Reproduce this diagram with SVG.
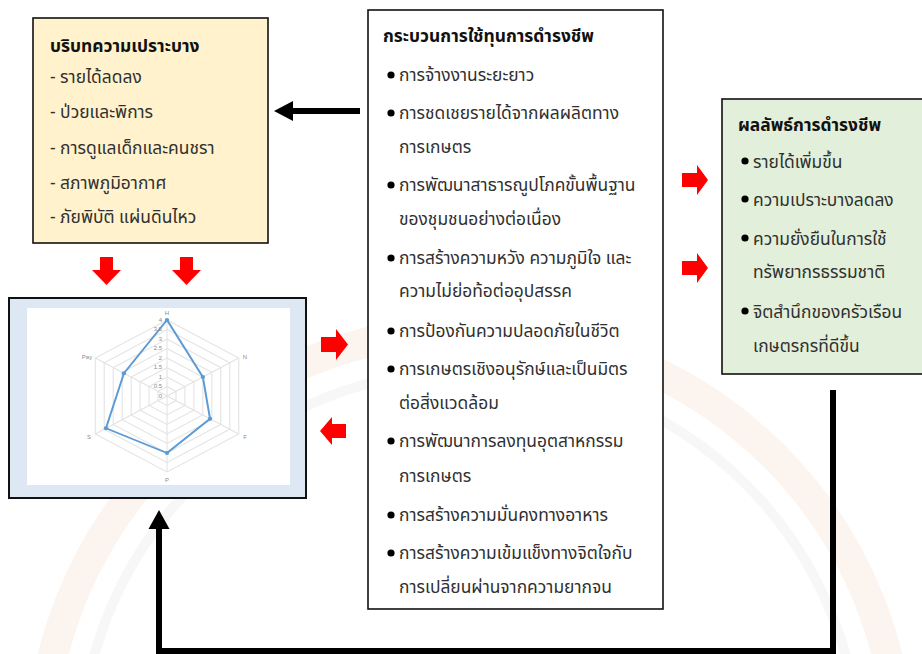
<svg xmlns="http://www.w3.org/2000/svg" width="922" height="654" viewBox="0 0 922 654">
<style>
.t{font-family:"Noto Sans Thai","Noto Sans","DejaVu Sans",sans-serif;font-size:17.4px;fill:#303030}
.h{font-family:"Noto Sans Thai","Noto Sans","DejaVu Sans",sans-serif;font-size:17.4px;font-weight:bold;fill:#111}
.box{stroke:#111;stroke-width:1.6}
.ax{font-family:"Liberation Sans",Arial,sans-serif;font-size:6px;fill:#8a8a8a}
.red{fill:#ff0000}
.blk{fill:#000}
.ring{fill:none;stroke:#e3e3e3;stroke-width:1}
</style>
<rect width="922" height="654" fill="#fff"/>
<g id="watermark" opacity="0.2" fill="none">
<circle cx="470" cy="760" r="430" stroke="#f3c9ae" stroke-width="30"/>
<circle cx="470" cy="760" r="390" stroke="#dcdcdc" stroke-width="10"/>
</g>
<g id="vulnerability">
<rect class="box" x="33" y="18" width="235" height="225" fill="#fff2cc"/>
<text class="h" x="50" y="52">บริบทความเปราะบาง</text>
<text class="t" x="50" y="83">- รายได้ลดลง</text>
<text class="t" x="50" y="118">- ป่วยและพิการ</text>
<text class="t" x="50" y="154">- การดูแลเด็กและคนชรา</text>
<text class="t" x="50" y="189">- สภาพภูมิอากาศ</text>
<text class="t" x="50" y="223">- ภัยพิบัติ แผ่นดินไหว</text>
</g>
<g id="chart">
<rect x="9" y="298" width="297" height="200" fill="#dde8f4" stroke="#111" stroke-width="2"/>
<rect x="27" y="308" width="263" height="177" fill="#fff"/>
<g transform="translate(167,396) scale(1.09,1)">
<g class="ring">
<polygon points="0,-9.5 8.23,-4.75 8.23,4.75 0,9.5 -8.23,4.75 -8.23,-4.75"/>
<polygon points="0,-19 16.45,-9.5 16.45,9.5 0,19 -16.45,9.5 -16.45,-9.5"/>
<polygon points="0,-28.5 24.68,-14.25 24.68,14.25 0,28.5 -24.68,14.25 -24.68,-14.25"/>
<polygon points="0,-38 32.9,-19 32.9,19 0,38 -32.9,19 -32.9,-19"/>
<polygon points="0,-47.5 41.14,-23.75 41.14,23.75 0,47.5 -41.14,23.75 -41.14,-23.75"/>
<polygon points="0,-57 49.36,-28.5 49.36,28.5 0,57 -49.36,28.5 -49.36,-28.5"/>
<polygon points="0,-66.5 57.59,-33.25 57.59,33.25 0,66.5 -57.59,33.25 -57.59,-33.25"/>
<polygon points="0,-76 65.82,-38 65.82,38 0,76 -65.82,38 -65.82,-38"/>
<path d="M0,0V-76M0,0L65.82,-38M0,0L65.82,38M0,0V76M0,0L-65.82,38M0,0L-65.82,-38"/>
</g>
<polygon points="0,-76 32.9,-19 39.5,22.8 0,57 -56,32.3 -39.5,-22.8" fill="none" stroke="#5b9bd5" stroke-width="1.8" stroke-linejoin="round"/>
<g fill="#5b9bd5">
<circle cx="0" cy="-76" r="2"/><circle cx="32.9" cy="-19" r="2"/><circle cx="39.5" cy="22.8" r="2"/>
<circle cx="0" cy="57" r="2"/><circle cx="-56" cy="32.3" r="2"/><circle cx="-39.5" cy="-22.8" r="2"/>
</g>
</g>
<g class="ax" text-anchor="end">
<text x="162" y="322">4</text><text x="162" y="331">3.5</text><text x="162" y="341">3</text>
<text x="162" y="350">2.5</text><text x="162" y="360">2</text><text x="162" y="369">1.5</text>
<text x="162" y="379">1</text><text x="162" y="388">0.5</text><text x="162" y="398">0</text>
</g>
<g class="ax" text-anchor="middle">
<text x="167" y="315">H</text><text x="245" y="359">N</text><text x="245" y="439">F</text>
<text x="167" y="482">P</text><text x="89" y="439">S</text><text x="87" y="359">Pay</text>
</g>
</g>
<g id="process">
<rect class="box" x="368" y="10" width="295" height="599" fill="#fff"/>
<text class="h" x="383" y="42">กระบวนการใช้ทุนการดำรงชีพ</text>
<g class="blk">
<circle cx="391" cy="75" r="3.6"/><circle cx="391" cy="113" r="3.6"/><circle cx="391" cy="185" r="3.6"/>
<circle cx="391" cy="258" r="3.6"/><circle cx="391" cy="331" r="3.6"/><circle cx="391" cy="369" r="3.6"/>
<circle cx="391" cy="441" r="3.6"/><circle cx="391" cy="515" r="3.6"/><circle cx="391" cy="553" r="3.6"/>
</g>
<text class="t" x="399" y="81">การจ้างงานระยะยาว</text>
<text class="t" x="399" y="119">การชดเชยรายได้จากผลผลิตทาง</text>
<text class="t" x="399" y="153">การเกษตร</text>
<text class="t" x="399" y="191">การพัฒนาสาธารณูปโภคขั้นพื้นฐาน</text>
<text class="t" x="399" y="225">ของชุมชนอย่างต่อเนื่อง</text>
<text class="t" x="399" y="264">การสร้างความหวัง ความภูมิใจ และ</text>
<text class="t" x="399" y="297">ความไม่ย่อท้อต่ออุปสรรค</text>
<text class="t" x="399" y="337">การป้องกันความปลอดภัยในชีวิต</text>
<text class="t" x="399" y="375">การเกษตรเชิงอนุรักษ์และเป็นมิตร</text>
<text class="t" x="399" y="409">ต่อสิ่งแวดล้อม</text>
<text class="t" x="399" y="447">การพัฒนาการลงทุนอุตสาหกรรม</text>
<text class="t" x="399" y="482">การเกษตร</text>
<text class="t" x="399" y="521">การสร้างความมั่นคงทางอาหาร</text>
<text class="t" x="399" y="559">การสร้างความเข้มแข็งทางจิตใจกับ</text>
<text class="t" x="399" y="593">การเปลี่ยนผ่านจากความยากจน</text>
</g>
<g id="outcomes">
<rect class="box" x="722" y="99" width="210" height="275" fill="#e2efda"/>
<text class="h" x="738" y="131">ผลลัพธ์การดำรงชีพ</text>
<g class="blk">
<circle cx="745" cy="161" r="3.6"/><circle cx="745" cy="199" r="3.6"/><circle cx="745" cy="238" r="3.6"/><circle cx="745" cy="311" r="3.6"/>
</g>
<text class="t" x="753" y="168">รายได้เพิ่มขึ้น</text>
<text class="t" x="753" y="206">ความเปราะบางลดลง</text>
<text class="t" x="753" y="245">ความยั่งยืนในการใช้</text>
<text class="t" x="753" y="278">ทรัพยากรธรรมชาติ</text>
<text class="t" x="753" y="318">จิตสำนึกของครัวเรือน</text>
<text class="t" x="753" y="352">เกษตรกรที่ดีขึ้น</text>
</g>
<g id="connectors">
<polygon class="blk" points="360,108 293,108 293,101 274,111 293,121 293,114 360,114"/>
<polygon class="red" points="100,257 113,257 113,270 121,270 106.5,285 92,270 100,270"/>
<polygon class="red" points="180,257 193,257 193,270 201,270 186.5,285 172,270 180,270"/>
<polygon class="red" points="321,337 336,337 336,329 348,344.5 336,360 336,352 321,352"/>
<polygon class="red" points="346,424 332,424 332,417 320,431 332,445 332,438 346,438"/>
<polygon class="red" points="682,173 697,173 697,165 708,180 697,195 697,187 682,187"/>
<polygon class="red" points="682,261 697,261 697,253 708,268 697,283 697,275 682,275"/>
<polyline points="833,390 833,651 159,651 159,526" fill="none" stroke="#000" stroke-width="6"/>
<polygon class="blk" points="159,510 169.5,529 148.5,529"/>
</g>
</svg>
